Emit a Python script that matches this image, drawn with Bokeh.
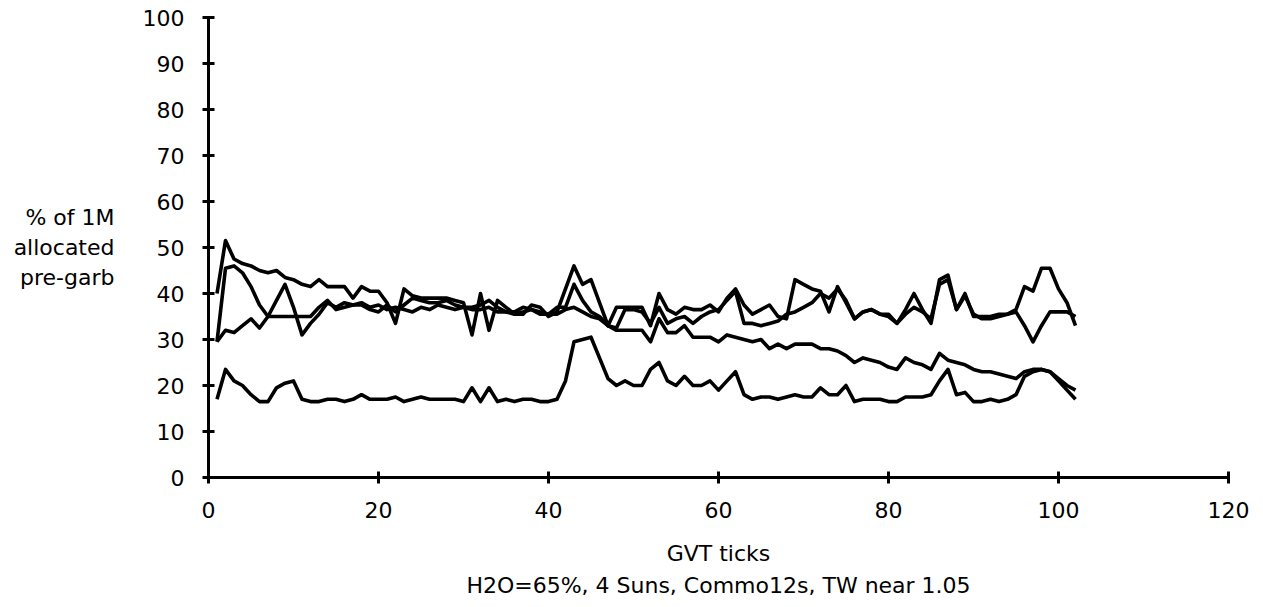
from bokeh.plotting import figure
from bokeh.models import Range1d, FixedTicker
from bokeh.embed import file_html
from bokeh.resources import INLINE

# GVT tick index for each sample
ticks = list(range(1, 103))

series_a = [40, 51.5, 47.5, 46.5, 46, 45, 44.5, 45, 43.5, 43,
            42, 41.5, 43, 41.5, 41.5, 41.5, 39, 41.5, 40.5, 40.5,
            38, 33.5, 41, 39.5, 39, 39, 39, 39, 38.5, 38,
            31, 40, 32, 38.5, 37, 35.5, 35.5, 37.5, 37, 35,
            36, 41, 46, 42, 43, 38, 33, 37, 37, 37,
            37, 33, 40, 36.5, 35.5, 37, 36.5, 36.5, 37.5, 36,
            39, 41, 37.5, 35.5, 36.5, 37.5, 35, 34.5, 43, 42,
            41, 40.5, 36, 41.5, 38, 34.5, 36, 36.5, 35.5, 35.5,
            33.5, 36.5, 40, 36.5, 33.5, 43, 44, 36.5, 40, 35,
            35, 35, 35.5, 35.5, 36.5, 41.5, 40.5, 45.5, 45.5, 41,
            38, 33]

series_b = [29.5, 45.5, 46, 44.5, 41.5, 37.5, 35, 35, 35, 35,
            35, 35, 37, 38.5, 36.5, 37, 37.5, 37.5, 36.5, 36,
            37.5, 36, 37.5, 39, 38.5, 38, 38, 38.5, 37.5, 37,
            37, 37.5, 38.5, 37, 36, 36, 37, 36.5, 35.5, 35.5,
            37, 37, 42, 38.5, 36, 35, 33, 32.5, 36.5, 36.5,
            36, 33.5, 37, 33.5, 34.5, 35, 33.5, 35, 36, 36.5,
            38.5, 40.5, 33.5, 33.5, 33, 33.5, 34, 35.5, 36, 37,
            38, 40, 39, 41, 38.5, 34.5, 36, 36.5, 35.5, 35,
            33.5, 35.5, 37, 36, 34.5, 42, 43, 36.5, 39.5, 35.5,
            34.5, 34.5, 35, 35.5, 36, 33, 29.5, 33, 36, 36,
            36, 35]

series_c = [29.5, 32, 31.5, 33, 34.5, 32.5, 35, 38.5, 42, 37,
            31, 33.5, 35.5, 38, 37, 38, 37.5, 38, 37, 37.5,
            36.5, 37, 36.5, 36, 37, 36.5, 37.5, 37, 36.5, 37,
            36.5, 36.5, 37, 36, 36, 35.5, 36, 36.5, 36, 35.5,
            35.5, 36.5, 37, 36, 35, 34.5, 33, 32, 32, 32,
            32, 29.5, 34.5, 31.5, 31.5, 33, 30.5, 30.5, 30.5, 29.5,
            31, 30.5, 30, 29.5, 30, 28, 29, 28, 29, 29,
            29, 28, 28, 27.5, 26.5, 25, 26, 25.5, 25, 24,
            23.5, 26, 25, 24.5, 23.5, 27, 25.5, 25, 24.5, 23.5,
            23, 23, 22.5, 22, 21.5, 23, 23.5, 23.5, 23, 21.5,
            20, 19]

series_d = [17, 23.5, 21, 20, 18, 16.5, 16.5, 19.5, 20.5, 21,
            17, 16.5, 16.5, 17, 17, 16.5, 17, 18, 17, 17,
            17, 17.5, 16.5, 17, 17.5, 17, 17, 17, 17, 16.5,
            19.5, 16.5, 19.5, 16.5, 17, 16.5, 17, 17, 16.5, 16.5,
            17, 21, 29.5, 30, 30.5, 26, 21.5, 20, 21, 20,
            20, 23.5, 25, 21, 20, 22, 20, 20, 21, 19,
            21, 23, 18, 17, 17.5, 17.5, 17, 17.5, 18, 17.5,
            17.5, 19.5, 18, 18, 20, 16.5, 17, 17, 17, 16.5,
            16.5, 17.5, 17.5, 17.5, 18, 21, 23.5, 18, 18.5, 16.5,
            16.5, 17, 16.5, 17, 18, 22, 23, 23.5, 23, 21,
            19, 17]

x_ticks = [0, 20, 40, 60, 80, 100, 120]
y_ticks = [0, 10, 20, 30, 40, 50, 60, 70, 80, 90, 100]

x_title = "GVT ticks\nH2O=65%, 4 Suns, Commo12s, TW near 1.05"
y_title = "% of 1M\nallocated\npre-garb"

FONT = "DejaVu Sans"
FS = "22px"

p = figure(width=1263, height=607, output_backend="svg", toolbar_location=None,
           x_range=Range1d(0, 120), y_range=Range1d(0, 100),
           min_border_left=208, min_border_right=35,
           min_border_top=17, min_border_bottom=130)
p.outline_line_color = None
p.background_fill_color = "white"
p.border_fill_color = "white"
p.grid.visible = False

for s in (series_a, series_b, series_c, series_d):
    p.line(ticks, s, line_color="black", line_width=3.6, line_join="round")

for ax, tk in ((p.xaxis[0], x_ticks), (p.yaxis[0], y_ticks)):
    ax.ticker = FixedTicker(ticks=tk)
    ax.axis_line_width = 3
    ax.axis_line_color = "black"
    ax.major_tick_line_width = 3
    ax.major_tick_line_color = "black"
    ax.major_tick_in = 6
    ax.major_tick_out = 6
    ax.minor_tick_line_color = None
    ax.major_label_text_font = FONT
    ax.major_label_text_font_size = FS
    ax.major_label_text_color = "black"
    ax.axis_label_text_font = FONT
    ax.axis_label_text_font_size = FS
    ax.axis_label_text_font_style = "normal"
    ax.axis_label_text_color = "black"

p.yaxis[0].major_label_standoff = 18
p.xaxis[0].major_label_standoff = 18

p.xaxis[0].axis_label = x_title
p.xaxis[0].axis_label_text_line_height = 1.3
p.xaxis[0].axis_label_standoff = 20
p.xaxis[0].axis_label_text_align = "center"

p.yaxis[0].axis_label = y_title
p.yaxis[0].axis_label_orientation = "horizontal"
p.yaxis[0].axis_label_text_line_height = 1.2
p.yaxis[0].axis_label_standoff = 25
p.yaxis[0].axis_label_text_align = "center"

open("out.html", "w").write(file_html(p, INLINE))
